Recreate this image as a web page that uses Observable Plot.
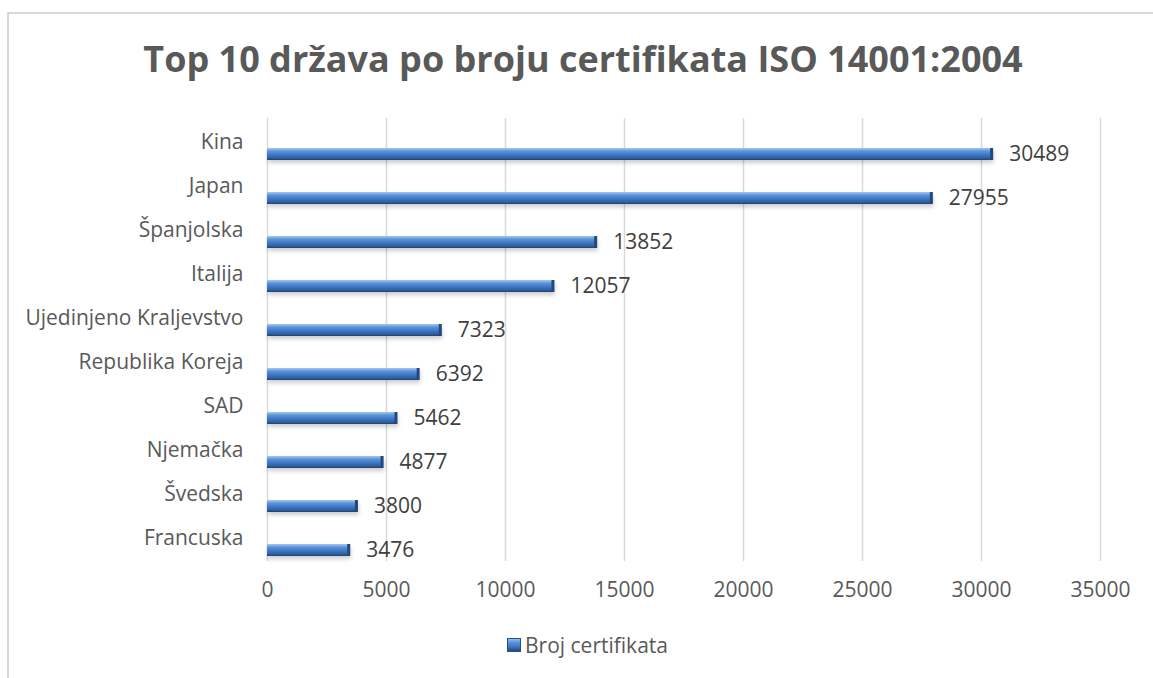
<!DOCTYPE html>
<html>
<head>
<meta charset="utf-8">
<script src="https://cdn.jsdelivr.net/npm/d3@7"></script>
<script src="https://cdn.jsdelivr.net/npm/@observablehq/plot@0.6"></script>
<style>
  html, body { margin: 0; padding: 0; background: #fff; }
  #wrap { position: relative; width: 1153px; height: 678px; overflow: hidden; font-family: "Open Sans", sans-serif; }
  #frame { position: absolute; left: 7px; top: 12px; right: -5px; bottom: -5px; border-top: 2px solid #d9d9d9; border-left: 2px solid #d9d9d9; }
  #title { position: absolute; left: 0; width: 1166px; top: 34px; line-height: 1.362; text-align: center; font-size: 36px; font-weight: 700; color: #595959; white-space: nowrap; }
  #chart { position: absolute; left: 0; top: 100px; }
  #legend { position: absolute; left: 507px; top: 631px; font-size: 21px; color: #595959; display: flex; align-items: center; white-space: nowrap; }
  #legend .sw { width: 14px; height: 14px; margin-right: 4px; background: linear-gradient(to bottom, #a7c9f0, #5b96dc 30%, #3f79c4 60%, #1e3f70); box-shadow: inset 0 0 0 1px #2a4f86; }
</style>
</head>
<body>
<div id="wrap">
  <div id="frame"></div>
  <div id="title">Top 10 država po broju certifikata ISO 14001:2004</div>
  <div id="chart"></div>
  <div id="legend"><span class="sw"></span><span>Broj certifikata</span></div>
</div>
<script>
const countries = ["Kina", "Japan", "Španjolska", "Italija", "Ujedinjeno Kraljevstvo", "Republika Koreja", "SAD", "Njemačka", "Švedska", "Francuska"];
const certificates = [30489, 27955, 13852, 12057, 7323, 6392, 5462, 4877, 3800, 3476];
const xTicks = [0, 5000, 10000, 15000, 20000, 25000, 30000, 35000];
const seriesName = "Broj certifikata";

const data = countries.map((c, i) => ({country: c, value: certificates[i]}));

const defs = () => {
  const g = d3.create("svg:g");
  const d = g.append("defs");
  const lg = d.append("linearGradient").attr("id", "barGrad").attr("x1", 0).attr("y1", 0).attr("x2", 0).attr("y2", 1);
  lg.append("stop").attr("offset", "0%").attr("stop-color", "#a7c9f0");
  lg.append("stop").attr("offset", "25%").attr("stop-color", "#5b96dc");
  lg.append("stop").attr("offset", "55%").attr("stop-color", "#3f79c4");
  lg.append("stop").attr("offset", "85%").attr("stop-color", "#2e5d9e");
  lg.append("stop").attr("offset", "100%").attr("stop-color", "#1e3f70");
  const f = d.append("filter").attr("id", "blurShadow").attr("x", "-5%").attr("y", "-50%").attr("width", "110%").attr("height", "200%");
  f.append("feGaussianBlur").attr("stdDeviation", 2);
  return g.node();
};

const chart = Plot.plot({
  width: 1153,
  height: 520,
  marginTop: 18,
  marginBottom: 59,
  marginLeft: 267,
  marginRight: 53,
  style: {fontFamily: "Open Sans, sans-serif", fontSize: "21px", color: "#595959", background: "transparent"},
  x: {domain: [0, 35000], ticks: xTicks, label: null},
  y: {domain: countries, padding: 0, label: null},
  marks: [
    defs,
    Plot.gridX(xTicks, {stroke: "#d9d9d9", strokeOpacity: 1, strokeWidth: 1.5}),
    Plot.axisX(xTicks, {tickSize: 0, tickPadding: 21, fontSize: 21, fill: "#595959", tickFormat: d => String(d)}),
    Plot.axisY({tickSize: 0, tickPadding: 24, fontSize: 21, fill: "#595959"}),
    // soft shadow beneath each bar
    Plot.barX(data, {x: "value", y: "country", fill: "#000", fillOpacity: 0.2, insetTop: 31, insetBottom: 1, dx: 1, render: (i, s, v, d, c, next) => { const g = next(i, s, v, d, c); g.setAttribute("filter", "url(#blurShadow)"); return g; }}),
    Plot.barX(data, {x: "value", y: "country", fill: "url(#barGrad)", insetTop: 28, insetBottom: 4}),
    Plot.tickX(data, {x: "value", y: "country", stroke: "#24487e", strokeWidth: 3, insetTop: 28, insetBottom: 4, dx: -1.5}),
    Plot.text(data, {x: "value", y: "country", text: d => String(d.value), textAnchor: "start", dx: 16, dy: 12, fontSize: 21, fill: "#404040"})
  ]
});
document.getElementById("chart").appendChild(chart);
</script>
</body>
</html>
